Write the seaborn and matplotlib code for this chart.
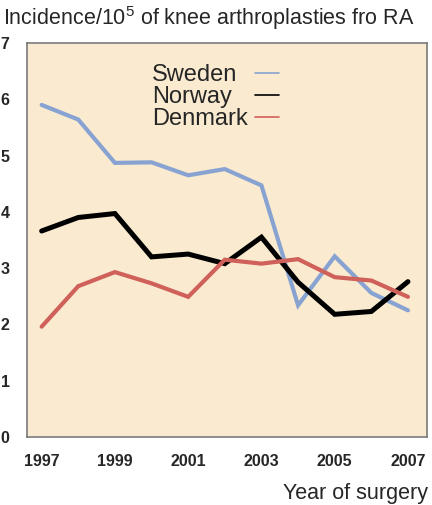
import matplotlib
matplotlib.use("Agg")
import matplotlib.pyplot as plt
import seaborn as sns
import pandas as pd
from matplotlib.lines import Line2D

years = [1997, 1998, 1999, 2000, 2001, 2002, 2003, 2004, 2005, 2006, 2007]
sweden = [5.90, 5.64, 4.87, 4.88, 4.65, 4.76, 4.47, 2.34, 3.21, 2.56, 2.25]
norway = [3.66, 3.90, 3.97, 3.20, 3.25, 3.08, 3.55, 2.75, 2.18, 2.23, 2.76]
denmark = [1.96, 2.68, 2.93, 2.73, 2.49, 3.15, 3.08, 3.16, 2.84, 2.78, 2.49]
countries = ["Sweden", "Norway", "Denmark"]
xticks = [1997, 1999, 2001, 2003, 2005, 2007]
yticks = [0, 1, 2, 3, 4, 5, 6, 7]

sns.set_style("white")
plt.rcParams["font.family"] = ["Liberation Sans", "DejaVu Sans"]
plt.rcParams["mathtext.fontset"] = "custom"
plt.rcParams["mathtext.rm"] = "Liberation Sans"
plt.rcParams["mathtext.default"] = "regular"

df = pd.DataFrame({
    "year": years * 3,
    "value": sweden + norway + denmark,
    "country": [c for c in countries for _ in years],
})

colors = {"Sweden": "#88a3d2", "Norway": "#000000", "Denmark": "#d0605a"}
widths = {"Sweden": 3.0, "Norway": 3.6, "Denmark": 3.0}

fig = plt.figure(figsize=(4.32, 5.05), dpi=100)
ax = fig.add_axes([27/432, (505-437)/505, 400/432, 394/505])
ax.set_facecolor("#faebd0")

for c in countries:
    sns.lineplot(data=df[df.country == c], x="year", y="value", color=colors[c],
                 linewidth=widths[c], ax=ax, legend=False, solid_joinstyle="miter")

ax.set_xlim(1996.6, 2007.52)
ax.set_ylim(0, 7)
ax.set_xticks(xticks)
ax.set_yticks(yticks)
ax.set_xticklabels([str(x) for x in xticks], fontweight="bold", fontsize=11.5)
ax.set_yticklabels([str(y) for y in yticks], fontweight="bold", fontsize=11.5)
ax.tick_params(axis="both", direction="out", length=5, width=0.8, color="#555555")
ax.tick_params(axis="y", pad=7.5)
ax.tick_params(axis="x", pad=7)
for s in ax.spines.values():
    s.set_color("#7a7a7a")
    s.set_linewidth(1.2)
ax.set_xlabel("")
ax.set_ylabel("")

# legend: labels (left-aligned) and short line handles to the right
blank = [Line2D([], [], color="none") for c in countries]
leg1 = ax.legend(blank, countries, loc="upper left", bbox_to_anchor=(0.3125, 0.947),
                 frameon=False, fontsize=17, handlelength=0, handletextpad=0,
                 labelspacing=0.0, borderpad=0, borderaxespad=0)
ax.add_artist(leg1)
handles = [Line2D([], [], color=colors[c], linewidth=1.2) for c in countries]
ax.legend(handles, ["", "", ""], loc="upper left", bbox_to_anchor=(0.57, 0.947),
          frameon=False, fontsize=17, handlelength=1.0, handletextpad=0,
          labelspacing=0.0, borderpad=0, borderaxespad=0)

fig.text(3/432, 1 - 18/505, "Incidence/10$^5$ of knee arthroplasties fro RA",
         fontsize=15.5, va="center", ha="left")
fig.text(428/432, 1 - 493/505, "Year of surgery", fontsize=15.5, va="center", ha="right")

fig.savefig("out.png", dpi=100)
